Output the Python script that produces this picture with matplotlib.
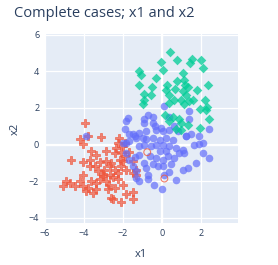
import numpy as np
import matplotlib
matplotlib.use("Agg")
import matplotlib.pyplot as plt

# cluster 1 (red crosses)
red_x = [-3.96, -4.21, -4.05, -3.79, -3.10, -2.20, -3.62, -3.36, -2.85, -2.42, -2.08, -2.34,
         -4.64, -4.05, -3.70, -3.19, -2.85, -2.59, -2.17, -1.91, -1.83, -1.49, -1.32, -3.28,
         -2.94, -2.42, -2.68, -4.05, -4.21, -3.62, -3.19, -2.85, -2.26, -2.00, -4.90, -4.73,
         -5.07, -4.47, -3.79, -3.36, -3.53, -2.77, -2.42, -2.59, -2.51, -2.08, -1.83, -1.49,
         -3.87, -4.05, -3.36, -3.02, -2.26, -2.08, -2.68, -3.45, -3.70, -2.26, -1.32, -1.49,
         -2.00, -1.91, -1.66, -2.00, -1.49, -3.00, -2.70, -2.50]
red_y = [1.15, 0.31, 0.05, 0.45, 0.42, 0.36, -0.36, -0.55, -0.36, -0.45, -0.42, -0.18,
         -0.86, -0.97, -1.18, -0.97, -0.91, -1.00, -0.82, -0.64, -1.37, -1.55, -1.37, -1.46,
         -1.37, -1.37, -1.64, -1.69, -2.00, -2.00, -1.91, -2.00, -1.91, -2.19, -2.00, -2.13,
         -2.28, -2.28, -2.37, -2.46, -2.64, -2.46, -2.37, -2.91, -3.00, -3.15, -2.73, -2.60,
         -2.55, -2.28, -2.09, -1.73, -1.55, -1.18, -1.18, -1.18, -0.82, 0.09, -1.69, -3.00,
         -0.09, 0.09, -0.42, -0.91, -0.91, -1.60, -2.20, -1.80]

# cluster 2 (blue circles)
blue_x = [-0.89, -0.47, -1.91, -1.49, -1.15, -0.80, -0.29, -0.04, 0.39, 0.81, 1.24, 1.50,
          1.67, 1.92, 2.09, 2.13, 2.43, 1.75, 1.32, 1.07, 0.39, 0.73, 0.13, -0.38, 0.00,
          -0.72, -0.72, -0.80, -0.89, -1.32, -1.32, -1.40, -1.15, -0.63, -0.29, 0.05, 0.30,
          0.64, 0.90, 1.07, 0.73, 0.39, 0.05, -0.29, -0.55, -0.89, -1.15, -0.12, 0.22, 0.56,
          -0.47, -0.80, -0.12, 0.22, 0.48, -0.47, -0.21, 0.05, 1.16, 0.13, -0.72, -0.89,
          -1.74, -0.47, -0.33, -1.40, 0.39, 0.64, 1.41, 2.43, 1.92, 1.24, 0.05, 1.38,
          -3.87, -1.83, -1.66, -1.32, -0.98, -1.83, -1.66, -2.00, -1.83, -1.66, -1.49, -1.15]
blue_y = [1.19, 1.19, 0.86, 0.60, 0.64, 0.73, 0.82, 0.91, 0.82, 0.73, 0.49, 0.55,
          0.00, 0.05, 0.09, -0.45, -0.73, -1.00, -1.27, -1.37, -1.51, -1.95, -1.64, -2.22, -2.46,
          -1.91, -1.64, -1.27, -1.00, -1.46, -1.82, -0.67, -0.60, -0.64, -0.73, -0.82, -0.64,
          -0.73, -0.45, -0.31, -0.18, -0.09, 0.00, 0.00, -0.09, 0.00, -0.09, 0.27, 0.36, 0.27,
          0.36, 0.31, -0.36, -0.36, -1.09, -1.09, -1.18, -1.18, -0.45, 2.13, 1.64, 1.40,
          1.46, 1.51, 1.00, 0.45, 1.51, 1.00, 1.86, 0.86, 0.45, 0.45, 0.73, 1.37,
          0.49, 0.09, 0.18, 0.36, 0.36, 1.27, 0.55, 0.09, -0.45, -0.82, -1.18, -2.00]

# cluster 3 (green diamonds)
green_x = [0.42, -0.04, 0.76, 1.53, 1.45, 2.01, 2.09, -1.15, -1.06, 0.05, 1.07, -0.29,
           -1.15, -0.52, 0.27, 0.76, 1.16, 1.19, 1.32, 2.38, 0.22, 0.68, 1.07, 1.79,
           -0.94, -0.55, 0.35, 1.24, 0.64, 0.99, 1.41, 1.62, 2.23, -0.89, -0.98, 0.35,
           1.16, 1.96, 2.30, 0.17, 0.56, 0.86, 0.35, 2.43, 0.99, 1.96, 1.32, 0.73, 0.99, 2.26]
green_y = [5.04, 4.52, 4.63, 4.68, 4.44, 4.61, 4.19, 4.03, 3.79, 4.08, 3.92, 3.64,
           3.24, 3.15, 3.28, 3.46, 3.55, 3.28, 3.15, 3.28, 3.00, 3.04, 2.91, 3.00,
           2.77, 2.73, 2.73, 2.73, 2.46, 2.42, 2.37, 2.42, 2.46, 2.42, 2.19, 2.28,
           2.19, 1.97, 2.06, 1.60, 1.51, 1.40, 1.27, 1.37, 1.19, 0.91, 1.05, 0.86, 0.78, 1.91]

# open circles
open_x = [-0.75, 0.13]
open_y = [-0.42, -1.86]

x_ticks = [-6, -4, -2, 0, 2]
y_ticks = [-4, -2, 0, 2, 4, 6]

ink = "#2a3f5f"
plt.rcParams['font.family'] = ['Open Sans', 'DejaVu Sans']

fig = plt.figure(figsize=(2.78, 2.65), dpi=100)
ax = fig.add_axes([0.161, 0.158, 0.695, 0.714])
ax.set_facecolor("#E5ECF6")

ax.scatter(red_x, red_y, marker="P", s=30, facecolor="#EF553B", edgecolor="#EF553B",
           alpha=0.7, linewidths=0.6, zorder=3)
ax.scatter(blue_x, blue_y, marker="o", s=30, color="#636efa", alpha=0.7, linewidths=0, zorder=3)
ax.scatter(green_x, green_y, marker="D", s=24, color="#00cc96", alpha=0.75, linewidths=0, zorder=3)
ax.scatter(open_x, open_y, marker="o", s=24, facecolors="none", edgecolors="#EF553B",
           alpha=0.75, linewidths=0.8, zorder=4)

ax.set_xlim(-6, 3.9)
ax.set_ylim(-4.3, 6.05)
ax.set_xticks(x_ticks)
ax.set_yticks(y_ticks)
ax.set_xticklabels([str(t).replace("-", "\u2212") for t in x_ticks])
ax.set_yticklabels([str(t).replace("-", "\u2212") for t in y_ticks])
ax.grid(True, color="white", linewidth=0.9, zorder=0)
ax.axhline(0, color="white", linewidth=1.6, zorder=1)
ax.axvline(0, color="white", linewidth=1.6, zorder=1)
ax.set_axisbelow(True)
for s in ax.spines.values():
    s.set_visible(False)
ax.tick_params(length=0, labelsize=6.5, labelcolor=ink, pad=4)

ax.set_xlabel("x1", fontsize=8, color=ink, labelpad=8)
ax.set_ylabel("x2", fontsize=8, color=ink, labelpad=6)
fig.text(0.05, 0.95, "Complete cases; x1 and x2", fontsize=10.5, color=ink, va="center", ha="left")

fig.savefig("out.png", dpi=100)
